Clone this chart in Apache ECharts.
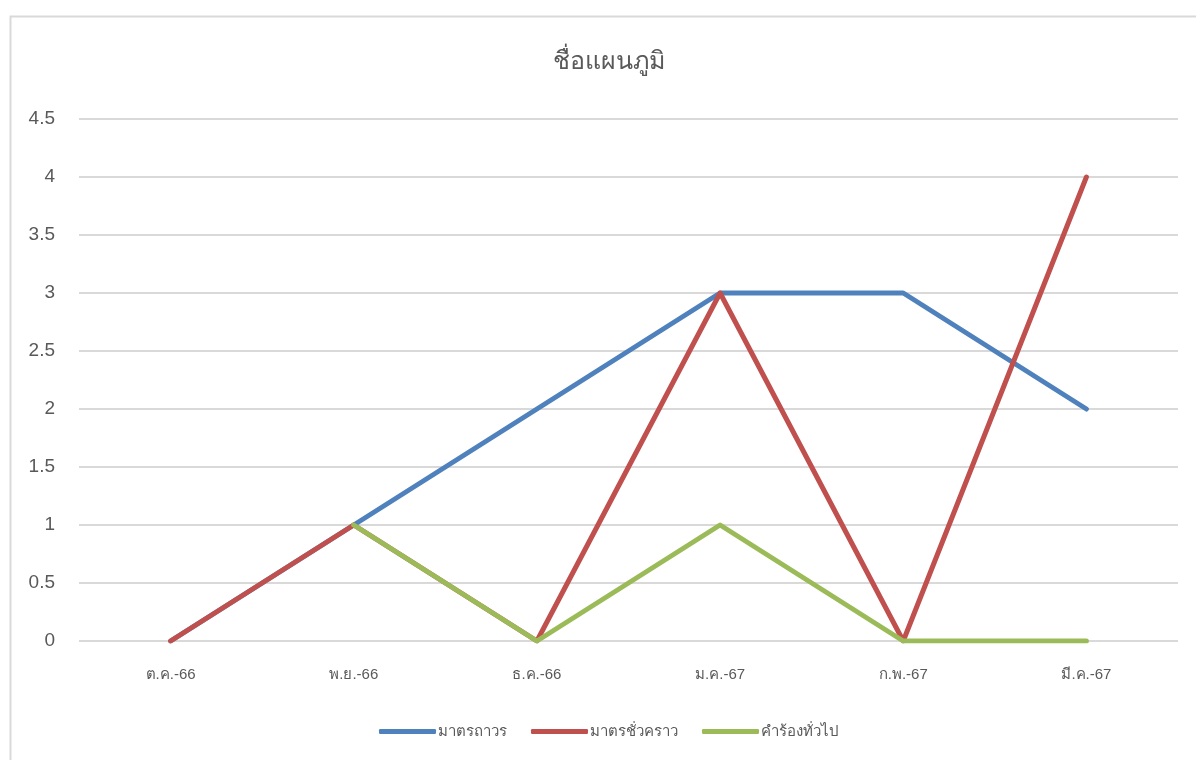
<!DOCTYPE html>
<html>
<head>
<meta charset="utf-8">
<script src="https://cdn.jsdelivr.net/npm/echarts@6/dist/echarts.min.js"></script>
<style>
  html, body { margin: 0; padding: 0; background: #fff; }
  #main { width: 1196px; height: 760px; }
</style>
</head>
<body>
<div id="main"></div>
<script>
var title = 'ชื่อแผนภูมิ';
var categories = ['ต.ค.-66', 'พ.ย.-66', 'ธ.ค.-66', 'ม.ค.-67', 'ก.พ.-67', 'มี.ค.-67'];
var seriesNames = ['มาตรถาวร', 'มาตรชั่วคราว', 'คำร้องทั่วไป'];
var permanentData = [0, 1, 2, 3, 3, 2];
var temporaryData = [0, 1, 0, 3, 0, 4];
var generalData = [null, 1, 0, 1, 0, 0];
var colors = ['#4F81BD', '#C0504D', '#9BBB59'];

var myChart = echarts.init(document.getElementById('main'));

function lineSeries(name, data, color) {
    return {
        name: name,
        type: 'line',
        data: data,
        symbol: 'none',
        connectNulls: false,
        lineStyle: { width: 5, color: color, cap: 'round', join: 'round' },
        itemStyle: { color: color }
    };
}

var option = {
    animation: false,
    backgroundColor: '#fff',
    textStyle: { fontFamily: 'sans-serif' },
    title: {
        text: title,
        left: 548,
        top: 45,
        textStyle: { fontSize: 25, fontWeight: 'normal', color: '#595959' }
    },
    graphic: [{
        type: 'rect',
        left: 8,
        top: 14,
        shape: { width: 1300, height: 900 },
        style: { fill: 'none', stroke: '#d9d9d9', lineWidth: 2 },
        silent: true
    }],
    legend: {
        top: 719,
        left: 374,
        itemWidth: 57,
        itemHeight: 5,
        itemGap: 24,
        icon: 'roundRect',
        textStyle: { fontSize: 15, color: '#595959', padding: [0, 0, 0, -3] },
        data: seriesNames
    },
    grid: {
        left: 79,
        right: 18,
        top: 119,
        bottom: 119,
        containLabel: false
    },
    xAxis: {
        type: 'category',
        data: categories,
        boundaryGap: true,
        axisLine: { show: false },
        axisTick: { show: false },
        axisLabel: { color: '#595959', fontSize: 15, margin: 26 }
    },
    yAxis: {
        type: 'value',
        min: 0,
        max: 4.5,
        interval: 0.5,
        axisLine: { show: false },
        axisTick: { show: false },
        axisLabel: { color: '#595959', fontSize: 19, margin: 24 },
        splitLine: { lineStyle: { color: '#d9d9d9', width: 2 } }
    },
    series: [
        lineSeries(seriesNames[0], permanentData, colors[0]),
        lineSeries(seriesNames[1], temporaryData, colors[1]),
        lineSeries(seriesNames[2], generalData, colors[2])
    ]
};

myChart.setOption(option);
</script>
</body>
</html>
